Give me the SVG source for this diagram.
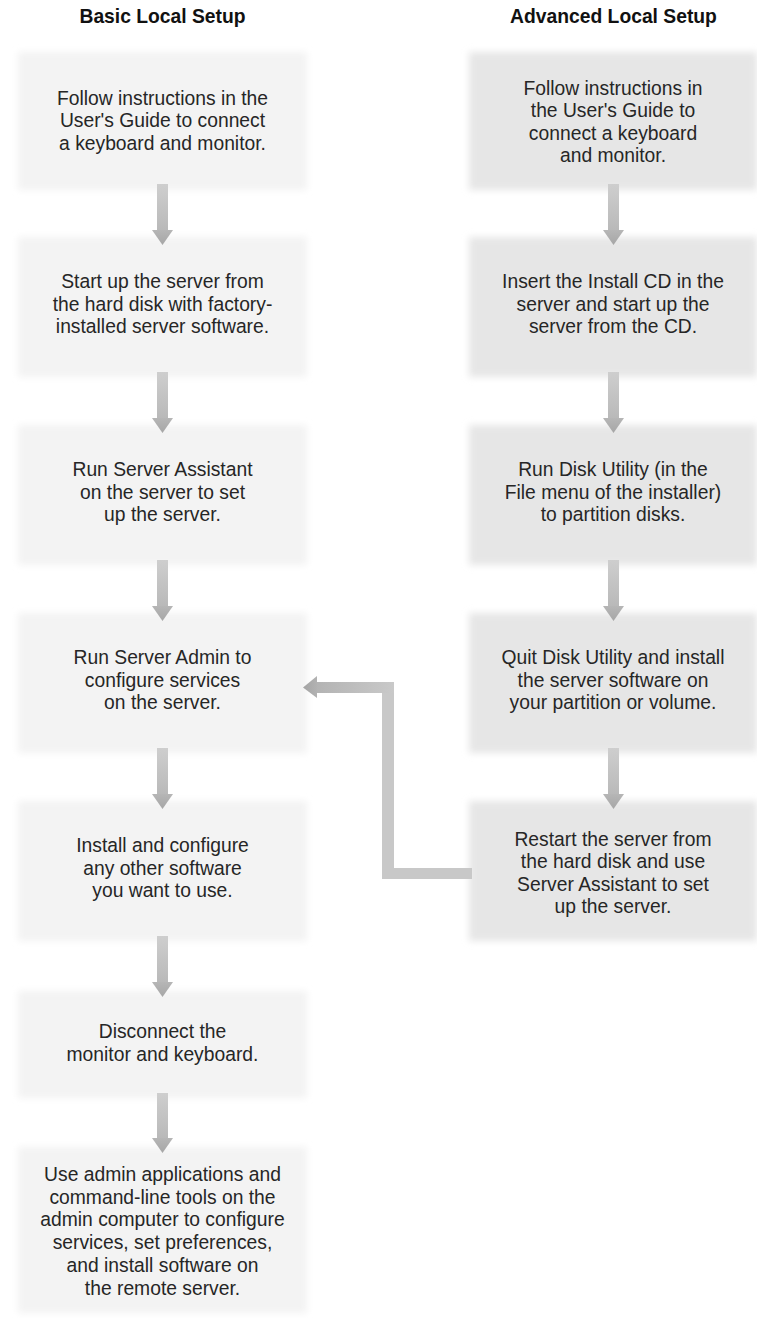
<svg xmlns="http://www.w3.org/2000/svg" width="757" height="1318" viewBox="0 0 757 1318">
<defs>
<filter id="soft" x="-10%" y="-10%" width="120%" height="120%"><feGaussianBlur stdDeviation="3.5"/></filter>
<linearGradient id="shaftV" x1="0" y1="0" x2="0" y2="1"><stop offset="0" stop-color="#cecece"/><stop offset="1" stop-color="#b9b9b9"/></linearGradient>
<linearGradient id="headV" x1="0" y1="0" x2="0" y2="1"><stop offset="0" stop-color="#b6b6b6"/><stop offset="1" stop-color="#a6a6a6"/></linearGradient>
<linearGradient id="shaftH" x1="1" y1="0" x2="0" y2="0"><stop offset="0" stop-color="#c9c9c9"/><stop offset="1" stop-color="#b3b3b3"/></linearGradient>
<linearGradient id="headH" x1="1" y1="0" x2="0" y2="0"><stop offset="0" stop-color="#b2b2b2"/><stop offset="1" stop-color="#a4a4a4"/></linearGradient>
</defs>
<style>
.hdr{font-family:"Liberation Sans",Arial,sans-serif;font-weight:bold;font-size:19.3px;fill:#111;text-anchor:middle}
.t{font-family:"Liberation Sans",Arial,sans-serif;font-size:19.3px;fill:#262626;text-anchor:middle}
.bl{fill:#f3f3f3;filter:url(#soft)}
.br{fill:#e6e6e6;filter:url(#soft)}
.sv{fill:url(#shaftV)}
.hv{fill:url(#headV)}
</style>
<text class="hdr" x="162.5" y="23">Basic Local Setup</text>
<text class="hdr" x="613.5" y="23">Advanced Local Setup</text>

<g id="L1"><rect class="bl" x="18" y="52" width="289" height="138"/>
<text class="t" x="162.5" y="104.5"><tspan x="162.5">Follow instructions in the</tspan><tspan x="162.5" dy="22.5">User's Guide to connect</tspan><tspan x="162.5" dy="22.5">a keyboard and monitor.</tspan></text></g>
<g id="L2"><rect class="bl" x="18" y="237" width="289" height="140"/>
<text class="t" x="162.5" y="288"><tspan x="162.5">Start up the server from</tspan><tspan x="162.5" dy="22.5">the hard disk with factory-</tspan><tspan x="162.5" dy="22.5">installed server software.</tspan></text></g>
<g id="L3"><rect class="bl" x="18" y="425" width="289" height="140"/>
<text class="t" x="162.5" y="476"><tspan x="162.5">Run Server Assistant</tspan><tspan x="162.5" dy="22.5">on the server to set</tspan><tspan x="162.5" dy="22.5">up the server.</tspan></text></g>
<g id="L4"><rect class="bl" x="18" y="613" width="289" height="140"/>
<text class="t" x="162.5" y="664"><tspan x="162.5">Run Server Admin to</tspan><tspan x="162.5" dy="22.5">configure services</tspan><tspan x="162.5" dy="22.5">on the server.</tspan></text></g>
<g id="L5"><rect class="bl" x="18" y="801" width="289" height="140"/>
<text class="t" x="162.5" y="852"><tspan x="162.5">Install and configure</tspan><tspan x="162.5" dy="22.5">any other software</tspan><tspan x="162.5" dy="22.5">you want to use.</tspan></text></g>
<g id="L6"><rect class="bl" x="18" y="991" width="289" height="107"/>
<text class="t" x="162.5" y="1038"><tspan x="162.5">Disconnect the</tspan><tspan x="162.5" dy="22.5">monitor and keyboard.</tspan></text></g>
<g id="L7"><rect class="bl" x="18" y="1147" width="289" height="166"/>
<text class="t" x="162.5" y="1181"><tspan x="162.5">Use admin applications and</tspan><tspan x="162.5" dy="22.7">command-line tools on the</tspan><tspan x="162.5" dy="22.7">admin computer to configure</tspan><tspan x="162.5" dy="22.7">services, set preferences,</tspan><tspan x="162.5" dy="22.7">and install software on</tspan><tspan x="162.5" dy="22.7">the remote server.</tspan></text></g>

<g id="R1"><rect class="br" x="469" y="52" width="288" height="138"/>
<text class="t" x="613" y="94.5"><tspan x="613">Follow instructions in</tspan><tspan x="613" dy="22.5">the User's Guide to</tspan><tspan x="613" dy="22.5">connect a keyboard</tspan><tspan x="613" dy="22.5">and monitor.</tspan></text></g>
<g id="R2"><rect class="br" x="469" y="237" width="288" height="140"/>
<text class="t" x="613" y="288"><tspan x="613">Insert the Install CD in the</tspan><tspan x="613" dy="22.5">server and start up the</tspan><tspan x="613" dy="22.5">server from the CD.</tspan></text></g>
<g id="R3"><rect class="br" x="469" y="425" width="288" height="140"/>
<text class="t" x="613" y="476"><tspan x="613">Run Disk Utility (in the</tspan><tspan x="613" dy="22.5">File menu of the installer)</tspan><tspan x="613" dy="22.5">to partition disks.</tspan></text></g>
<g id="R4"><rect class="br" x="469" y="613" width="288" height="140"/>
<text class="t" x="613" y="664"><tspan x="613">Quit Disk Utility and install</tspan><tspan x="613" dy="22.5">the server software on</tspan><tspan x="613" dy="22.5">your partition or volume.</tspan></text></g>
<g id="R5"><rect class="br" x="469" y="801" width="288" height="140"/>
<text class="t" x="613" y="845.5"><tspan x="613">Restart the server from</tspan><tspan x="613" dy="22.5">the hard disk and use</tspan><tspan x="613" dy="22.5">Server Assistant to set</tspan><tspan x="613" dy="22.5">up the server.</tspan></text></g>

<g id="connectors">
<rect class="sv" x="157" y="184" width="11" height="46"/><polygon class="hv" points="152,230 173,230 162.5,245"/>
<rect class="sv" x="157" y="372" width="11" height="46"/><polygon class="hv" points="152,418 173,418 162.5,433"/>
<rect class="sv" x="157" y="560" width="11" height="46"/><polygon class="hv" points="152,606 173,606 162.5,621"/>
<rect class="sv" x="157" y="748" width="11" height="46"/><polygon class="hv" points="152,794 173,794 162.5,809"/>
<rect class="sv" x="157" y="936" width="11" height="46"/><polygon class="hv" points="152,982 173,982 162.5,997"/>
<rect class="sv" x="157" y="1093" width="11" height="45"/><polygon class="hv" points="152,1138 173,1138 162.5,1153"/>
<rect class="sv" x="608" y="184" width="11" height="46"/><polygon class="hv" points="603,230 624,230 613.5,245"/>
<rect class="sv" x="608" y="372" width="11" height="46"/><polygon class="hv" points="603,418 624,418 613.5,433"/>
<rect class="sv" x="608" y="560" width="11" height="46"/><polygon class="hv" points="603,606 624,606 613.5,621"/>
<rect class="sv" x="608" y="748" width="11" height="46"/><polygon class="hv" points="603,794 624,794 613.5,809"/>
<polygon fill="#c8c8c8" points="472,868 472,879 382,879 382,682 394,682 394,868"/>
<rect fill="url(#shaftH)" x="316" y="682" width="78" height="11"/>
<polygon fill="url(#headH)" points="317,676 317,698 303,687.5"/>
</g>
</svg>
